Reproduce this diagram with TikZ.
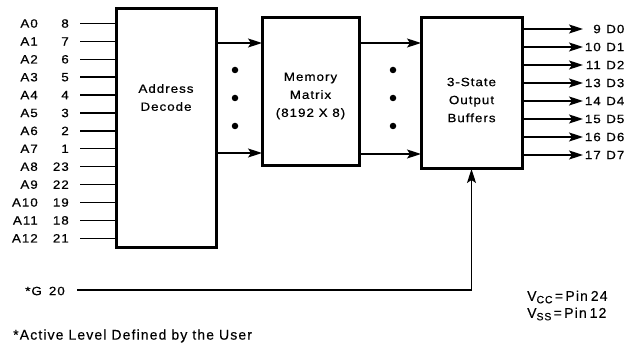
\documentclass[tikz,border=0pt]{standalone}
\usepackage{fontspec}
\setmainfont{Liberation Sans}
\newfontfamily\labfont[FakeStretch=1.12,LetterSpace=8,FakeBold=0.6]{Liberation Sans}
\newfontfamily\notefont[LetterSpace=8,FakeBold=0.3]{Liberation Sans}
\usetikzlibrary{arrows.meta}
\begin{document}
\begin{tikzpicture}[x=1pt,y=-1pt,
  blk/.style={draw,line width=3pt,inner sep=0pt,outer sep=0pt},
  wire/.style={line width=1.4pt},
  arr/.style={wire,-{Stealth[length=14pt,width=9pt,inset=3pt]}},
  txt/.style={inner sep=0pt,font=\labfont\fontsize{12}{18}\selectfont,align=center},
  pin/.style={inner sep=0pt,font=\labfont\fontsize{12}{13}\selectfont},
  note/.style={anchor=west,inner sep=0pt,font=\notefont\fontsize{14}{15}\selectfont},
  dot/.style={circle,fill,inner sep=0pt,minimum size=6.5pt}]
\useasboundingbox (0,0) rectangle (639,347);
% blocks
\node[blk,minimum width=100pt,minimum height=239pt] (addr) at (166,128) {};
\node[blk,minimum width=97pt,minimum height=148pt] (mem) at (310.5,92) {};
\node[blk,minimum width=101pt,minimum height=151pt] (buf) at (471.5,93.5) {};
\node[txt] (addrt) at (166,97.5) {Address\\Decode};
\node[txt] (memt) at (310.5,96) {Memory\\Matrix\\(8192 X 8)};
\node[txt] (buft) at (471.5,100) {3-State\\Output\\Buffers};
% address inputs
\foreach \n/\p [count=\i from 0] in {A0/8,A1/7,A2/6,A3/5,A4/4,A5/3,A6/2,A7/1,A8/23,A9/22,A10/19,A11/18,A12/21}{
  \pgfmathsetmacro{\yy}{23.5+17.9*\i}
  \node[pin,anchor=east] (an\i) at (38,\yy) {\n};
  \node[pin,anchor=east] (ap\i) at (69,\yy) {\p};
  \coordinate (ai\i) at (80,\yy);
  \draw[wire] (ai\i) -- (ai\i -| addr.west);
}
% address -> memory
\coordinate (am1) at (216,43);
\coordinate (am2) at (216,153);
\draw[arr] (am1) -- (am1 -| mem.west);
\draw[arr] (am2) -- (am2 -| mem.west);
\node[dot] (d1) at (235,70) {};
\node[dot] (d2) at (235,98) {};
\node[dot] (d3) at (235,126) {};
% memory -> buffers
\coordinate (mb1) at (359,43);
\coordinate (mb2) at (359,154);
\draw[arr] (mb1) -- (mb1 -| buf.west);
\draw[arr] (mb2) -- (mb2 -| buf.west);
\node[dot] (e1) at (393,70) {};
\node[dot] (e2) at (393,98) {};
\node[dot] (e3) at (393,126) {};
% outputs
\foreach \d/\p [count=\i from 0] in {D0/9,D1/10,D2/11,D3/13,D4/14,D5/15,D6/16,D7/17}{
  \pgfmathsetmacro{\yy}{29+18*\i}
  \coordinate (oe\i) at (583,\yy);
  \draw[arr] (oe\i -| buf.east) -- (oe\i);
  \node[pin,anchor=east] (op\i) at (601,\yy) {\p};
  \node[pin,anchor=west] (od\i) at (606,\yy) {\d};
}
% G input
\node[pin,anchor=east] (g) at (65,291) {*G\hspace{7pt}20};
\coordinate (gs) at (77,290);
\draw[arr] (gs) -- (gs -| buf.south) -- (buf.south);
% supply note
\node[note] (vcc) at (527,297) {V{\fontsize{10.5}{10}\selectfont\raisebox{-2.5pt}{CC}}\,=\,Pin\hspace{3pt}24};
\node[note] (vss) at (527,314) {V{\fontsize{10.5}{10}\selectfont\raisebox{-2.5pt}{SS}}\,=\,Pin\hspace{3pt}12};
% footnote
\node[note] (foot) at (13,336) {*Active Level Defined by the User};
\end{tikzpicture}
\end{document}
